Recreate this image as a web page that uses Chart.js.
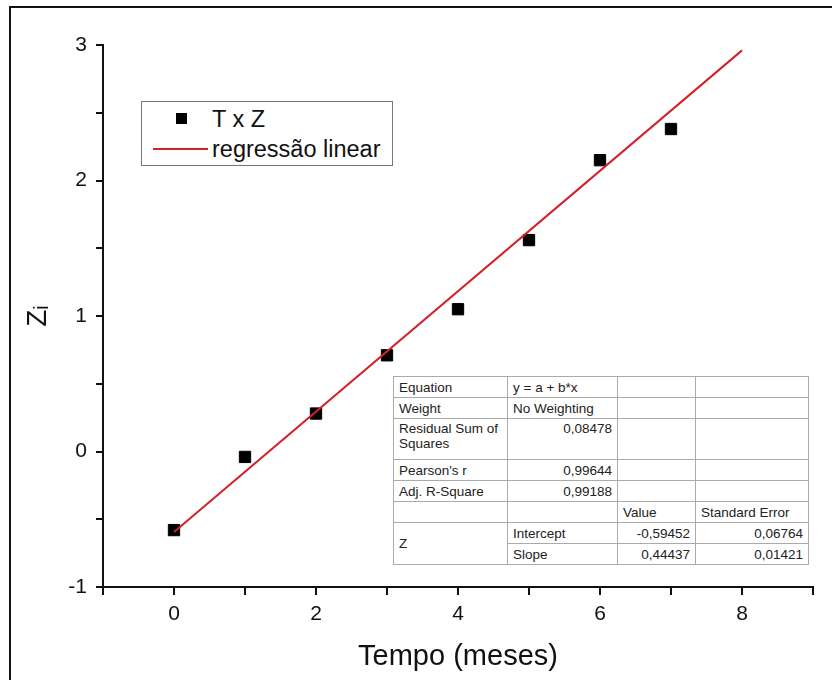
<!DOCTYPE html>
<html>
<head>
<meta charset="utf-8">
<script src="https://cdn.jsdelivr.net/npm/chart.js@4"></script>
<style>
  html, body { margin: 0; padding: 0; background: #fff; }
  #wrap { position: relative; width: 832px; height: 680px; font-family: "Liberation Sans", Arial, sans-serif; }
  #frame { position: absolute; left: 9px; top: 6px; right: 0; bottom: 0; border-left: 2px solid #111; border-top: 2px solid #111; }
  canvas { position: absolute; left: 0; top: 0; }
  #legend { position: absolute; left: 141px; top: 101px; width: 250px; height: 63px; border: 1px solid #777; background: #fff; font-size: 23.5px; color: #111; }
  #legend .row { position: absolute; left: 0; height: 28px; line-height: 28px; }
  #legend .sq { position: absolute; left: 34px; top: 8px; width: 11px; height: 11px; background: #000; }
  #legend .ln { position: absolute; left: 11px; top: 13px; width: 55px; height: 2px; background: #d42027; }
  #legend .tx { position: absolute; left: 70px; white-space: nowrap; }
  #stats { position: absolute; left: 393px; top: 376px; border-collapse: collapse; font-size: 13.5px; color: #222; background: #fff; }
  #stats td { border: 1px solid #aaa; padding: 0 5px; height: 20px; line-height: 15px; vertical-align: middle; white-space: nowrap; }
  #stats td.num { text-align: right; }
</style>
</head>
<body>
<div id="wrap">
  <div id="frame"></div>
  <canvas id="chart" width="832" height="680"></canvas>
  <div id="legend"></div>
  <table id="stats"></table>
</div>
<script>
// measured points
const tempo = [0, 1, 2, 3, 4, 5, 6, 7];
const zValues = [-0.58, -0.04, 0.28, 0.71, 1.05, 1.56, 2.15, 2.38];

// fitted line endpoints (y = a + b*x)
const fitX = [0, 8];
const fitY = [-0.5945, 2.9604];

const seriesLabels = ['T x Z', 'regressão linear'];

const xTickLabels = ['0', '2', '4', '6', '8'];
const yTickLabels = ['-1', '0', '1', '2', '3'];

// fit table rows
const fitInfo = [
  ['Equation', 'y = a + b*x'],
  ['Weight', 'No Weighting'],
  ['Residual Sum of<br>Squares', '0,08478'],
  ["Pearson's r", '0,99644'],
  ['Adj. R-Square', '0,99188']
];
const paramHeader = ['Value', 'Standard Error'];
const paramRows = [
  ['Intercept', '-0,59452', '0,06764'],
  ['Slope', '0,44437', '0,01421']
];

function buildTable() {
  const t = document.getElementById('stats');
  let html = '<colgroup><col style="width:114px"><col style="width:110px"><col style="width:78px"><col style="width:113px"></colgroup>';
  fitInfo.forEach((r, i) => {
    const cls = (i < 2) ? '' : ' class="num"';
    const h = (i === 2) ? ' style="height:38px;vertical-align:top;padding-top:2px"' : '';
    const h2 = (i === 2) ? ' style="height:38px;vertical-align:top;padding-top:2px;text-align:right"' : '';
    html += '<tr><td' + h + '>' + r[0] + '</td><td' + (i === 2 ? h2 : cls) + '>' + r[1] + '</td><td></td><td></td></tr>';
  });
  html += '<tr><td></td><td></td><td>' + paramHeader[0] + '</td><td>' + paramHeader[1] + '</td></tr>';
  paramRows.forEach((r, i) => {
    html += '<tr>' + (i === 0 ? '<td rowspan="2">Z</td>' : '') +
      '<td>' + r[0] + '</td><td class="num">' + r[1] + '</td><td class="num">' + r[2] + '</td></tr>';
  });
  t.innerHTML = html;
}

function buildLegend() {
  const l = document.getElementById('legend');
  l.innerHTML =
    '<div class="row" style="top:3px;width:100%"><span class="sq"></span><span class="tx">' + seriesLabels[0] + '</span></div>' +
    '<div class="row" style="top:33px;width:100%"><span class="ln"></span><span class="tx">' + seriesLabels[1] + '</span></div>';
}

buildTable();
buildLegend();

const font = { family: '"Liberation Sans", Arial, sans-serif', size: 21 };

new Chart(document.getElementById('chart'), {
  type: 'scatter',
  data: {
    datasets: [
      {
        label: seriesLabels[1],
        data: fitX.map((x, i) => ({ x: x, y: fitY[i] })),
        showLine: true,
        borderColor: '#d42027',
        borderWidth: 2,
        pointRadius: 0
      },
      {
        label: seriesLabels[0],
        data: tempo.map((x, i) => ({ x: x, y: zValues[i] })),
        pointStyle: 'rect',
        pointRadius: 8,
        backgroundColor: '#000',
        borderColor: '#000',
        borderWidth: 1
      }
    ]
  },
  options: {
    responsive: false,
    animation: false,
    layout: { padding: { left: 0, top: 45, right: 19, bottom: 0 } },
    plugins: { legend: { display: false }, tooltip: { enabled: false } },
    scales: {
      x: {
        type: 'linear',
        min: -1,
        max: 9,
        border: { color: '#111', width: 2 },
        grid: { drawOnChartArea: false, drawTicks: true, tickLength: 8, color: '#111', lineWidth: 2 },
        ticks: {
          stepSize: 1,
          color: '#111',
          font: font,
          padding: 7,
          callback: v => xTickLabels.includes(String(v)) ? String(v) : ''
        },
        title: {
          display: true,
          text: 'Tempo (meses)',
          color: '#111',
          font: { family: font.family, size: 29 },
          padding: { top: 0, bottom: 6 }
        },
        afterFit: s => { s.height = 93; }
      },
      y: {
        type: 'linear',
        min: -1,
        max: 3,
        border: { color: '#111', width: 2 },
        grid: { drawOnChartArea: false, drawTicks: true, tickLength: 7, color: '#111', lineWidth: 2 },
        ticks: {
          stepSize: 0.5,
          color: '#111',
          font: font,
          padding: 9,
          callback: v => yTickLabels.includes(String(v)) ? String(v) : ''
        },
        title: {
          display: true,
          text: 'Zᵢ',
          color: '#111',
          font: { family: font.family, size: 28 },
          padding: { top: 21, bottom: 0 }
        },
        afterFit: s => { s.width = 103; }
      }
    }
  }
});
</script>
</body>
</html>
